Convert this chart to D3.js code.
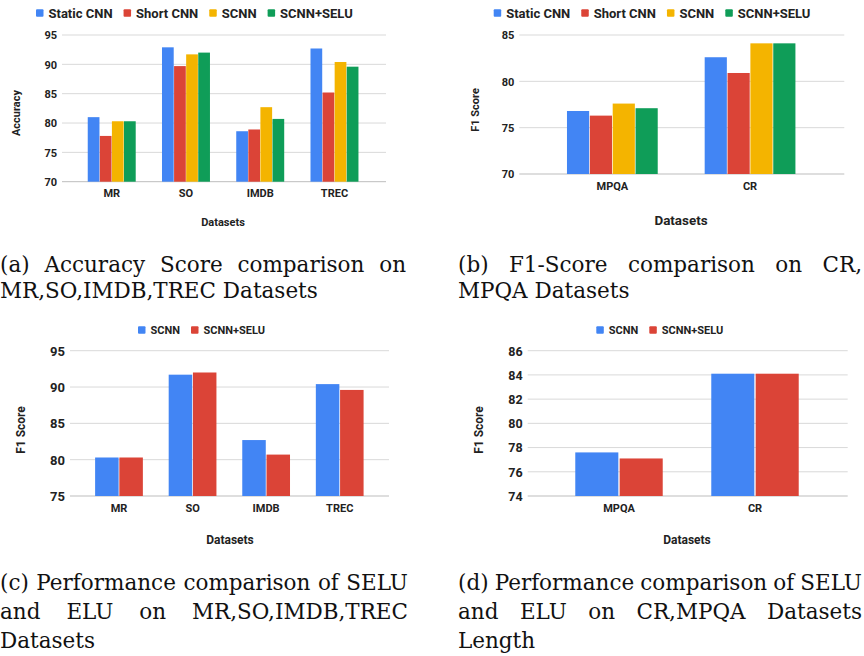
<!DOCTYPE html>
<html>
<head>
<meta charset="utf-8">
<script src="https://cdn.jsdelivr.net/npm/d3@7.9.0/dist/d3.min.js"></script>
<style>
  body { margin: 0; background: #fff; }
  svg { display: block; }
  .chart text { font-family: Roboto, sans-serif; font-weight: 700; fill: #222; }
  .cap text { font-family: 'DejaVu Serif', serif; fill: #111; }
</style>
</head>
<body>
<svg id="fig" width="864" height="656"></svg>
<script>
// data
const seriesAll = ['Static CNN', 'Short CNN', 'SCNN', 'SCNN+SELU'];
const colorsAll = ['#4285F4', '#DB4437', '#F4B400', '#0F9D58'];
const seriesPair = ['SCNN', 'SCNN+SELU'];
const colorsPair = ['#4285F4', '#DB4437'];

const catsA = ['MR', 'SO', 'IMDB', 'TREC'];
const staticA = [81.0, 92.9, 78.6, 92.7];
const shortA = [77.8, 89.7, 78.9, 85.2];
const scnnA = [80.3, 91.7, 82.7, 90.4];
const seluA = [80.3, 92.0, 80.7, 89.6];

const catsB = ['MPQA', 'CR'];
const staticB = [76.8, 82.6];
const shortB = [76.3, 80.9];
const scnnB = [77.6, 84.1];
const seluB = [77.1, 84.1];

const ticksA = [70, 75, 80, 85, 90, 95];
const ticksB = [70, 75, 80, 85];
const ticksC = [75, 80, 85, 90, 95];
const ticksD = [74, 76, 78, 80, 82, 84, 86];

const svg = d3.select('#fig');
svg.append('rect').attr('width', 864).attr('height', 656).attr('fill', '#fff');

function drawPanel(cfg) {
  const g = svg.append('g').attr('class', 'chart');

  const y = d3.scaleLinear().domain(d3.extent(cfg.ticks)).range([cfg.yBot, cfg.yTop]);
  const x0 = d3.scaleBand().domain(cfg.cats).range(cfg.band)
    .paddingInner(cfg.pad).paddingOuter(cfg.pad / 2);
  const x1 = d3.scaleBand().domain(cfg.series).range([0, x0.bandwidth()]).paddingInner(0.03);

  // gridlines + tick labels
  const yAxis = d3.axisLeft(y).tickValues(cfg.ticks).tickSize(0).tickPadding(0);
  const ax = g.append('g').attr('transform', `translate(${cfg.tickX},0)`).call(yAxis);
  ax.select('.domain').remove();
  ax.selectAll('text').attr('font-size', cfg.tickFs).attr('x', 0).attr('dy', '0.35em')
    .attr('font-family', 'Roboto, sans-serif').attr('font-weight', 700).attr('fill', '#222');

  g.selectAll('line.grid').data(cfg.ticks).join('line')
    .attr('class', 'grid')
    .attr('x1', cfg.grid[0]).attr('x2', cfg.grid[1])
    .attr('y1', d => y(d)).attr('y2', d => y(d))
    .attr('stroke', (d, i) => i === 0 ? '#bdbdbd' : '#d9d9d9').attr('stroke-width', 1);

  // bars
  const rows = cfg.cats.map((c, i) => ({ cat: c, vals: cfg.values.map(v => v[i]) }));
  const grp = g.selectAll('g.grp').data(rows).join('g')
    .attr('transform', d => `translate(${x0(d.cat)},0)`);
  grp.selectAll('rect').data(d => d.vals.map((v, j) => ({ s: cfg.series[j], v, j }))).join('rect')
    .attr('x', d => x1(d.s)).attr('width', x1.bandwidth())
    .attr('y', d => y(d.v)).attr('height', d => y(cfg.ticks[0]) - y(d.v))
    .attr('fill', d => cfg.colors[d.j]);

  // category labels
  const xAxis = d3.axisBottom(x0).tickSize(0).tickPadding(0);
  const xa = g.append('g').attr('transform', `translate(0,${cfg.xLabY})`).call(xAxis);
  xa.select('.domain').remove();
  xa.selectAll('text').attr('font-size', cfg.xFs).attr('dy', '0.35em').attr('y', 0)
    .attr('font-family', 'Roboto, sans-serif').attr('font-weight', 700).attr('fill', '#222');

  // axis titles
  g.append('text').attr('x', cfg.xTitle[0]).attr('y', cfg.xTitle[1])
    .attr('text-anchor', 'middle').attr('dy', '0.35em').attr('font-size', cfg.xTitleFs)
    .text('Datasets');
  g.append('text').attr('transform', `translate(${cfg.yTitle[0]},${cfg.yTitle[1]}) rotate(-90)`)
    .attr('text-anchor', 'middle').attr('dy', '0.35em').attr('font-size', cfg.yTitleFs)
    .text(cfg.yLabel);

  // legend
  let lx = cfg.legend[0];
  const sw = cfg.swatch;
  cfg.series.forEach((s, i) => {
    g.append('rect').attr('x', lx).attr('y', cfg.legend[1] - sw / 2)
      .attr('width', sw).attr('height', sw).attr('rx', 1).attr('fill', cfg.colors[i]);
    const t = g.append('text').attr('x', lx + sw + 5).attr('y', cfg.legend[1])
      .attr('dy', '0.35em').attr('font-size', cfg.legFs).text(s);
    lx += sw + 5 + t.node().getComputedTextLength() + cfg.legGap;
  });
}

drawPanel({
  cats: catsA, series: seriesAll, colors: colorsAll,
  values: [staticA, shortA, scnnA, seluA], ticks: ticksA, yLabel: 'Accuracy',
  yTop: 35, yBot: 181.7, grid: [62, 386], band: [74.6, 371.6], pad: 0.354,
  tickX: 57, tickFs: 11, xLabY: 193, xFs: 11,
  xTitle: [223, 222], xTitleFs: 11, yTitle: [16, 113], yTitleFs: 11,
  legend: [36, 13], swatch: 7.5, legFs: 13, legGap: 11
});

drawPanel({
  cats: catsB, series: seriesAll, colors: colorsAll,
  values: [staticB, shortB, scnnB, seluB], ticks: ticksB, yLabel: 'F1 Score',
  yTop: 35, yBot: 174, grid: [519.3, 844.3], band: [543.5, 818.9], pad: 0.341,
  tickX: 514.3, tickFs: 11, xLabY: 185.7, xFs: 11,
  xTitle: [681, 220], xTitleFs: 13.4, yTitle: [474.7, 110], yTitleFs: 11,
  legend: [493.7, 13], swatch: 7.5, legFs: 13, legGap: 11
});

drawPanel({
  cats: catsA, series: seriesPair, colors: colorsPair,
  values: [scnnA, seluA], ticks: ticksC, yLabel: 'F1 Score',
  yTop: 350.7, yBot: 496, grid: [70, 389], band: [82.2, 376.5], pad: 0.351,
  tickX: 65, tickFs: 13, xLabY: 508, xFs: 11,
  xTitle: [230, 540], xTitleFs: 12, yTitle: [20.7, 430], yTitleFs: 12,
  legend: [138, 330], swatch: 7.5, legFs: 11, legGap: 11
});

drawPanel({
  cats: catsB, series: seriesPair, colors: colorsPair,
  values: [scnnB, seluB], ticks: ticksD, yLabel: 'F1 Score',
  yTop: 350.7, yBot: 496, grid: [527.7, 847.7], band: [551, 823], pad: 0.357,
  tickX: 522.7, tickFs: 12.5, xLabY: 508, xFs: 11,
  xTitle: [687, 540], xTitleFs: 12, yTitle: [479, 430], yTitleFs: 12,
  legend: [596.3, 330], swatch: 7.5, legFs: 11, legGap: 11
});

// captions (justified lines like the LaTeX subcaptions)
const capFs = 21.5;
function caption(x, width, baselines, lines) {
  const g = svg.append('g').attr('class', 'cap');
  lines.forEach((line, i) => {
    const justify = i < lines.length - 1;
    const words = line.split(' ');
    const t = g.append('text').attr('y', baselines[i]).attr('font-size', capFs);
    if (!justify) {
      t.attr('x', x).text(line);
      return;
    }
    const spans = words.map(w => t.append('tspan').text(w));
    const widths = spans.map(s => s.node().getComputedTextLength());
    const gap = (width - d3.sum(widths)) / (words.length - 1);
    let cx = x;
    spans.forEach((s, k) => {
      s.attr('x', cx);
      cx += widths[k] + gap;
    });
  });
}

caption(0, 406, [271.5, 298], ['(a) Accuracy Score comparison on', 'MR,SO,IMDB,TREC Datasets']);
caption(458, 404, [271.5, 298], ['(b) F1-Score comparison on CR,', 'MPQA Datasets']);
caption(0, 408, [590, 619, 648], ['(c) Performance comparison of SELU', 'and ELU on MR,SO,IMDB,TREC', 'Datasets']);
caption(458, 404, [590, 619, 648], ['(d) Performance comparison of SELU', 'and ELU on CR,MPQA Datasets', 'Length']);
</script>
</body>
</html>
